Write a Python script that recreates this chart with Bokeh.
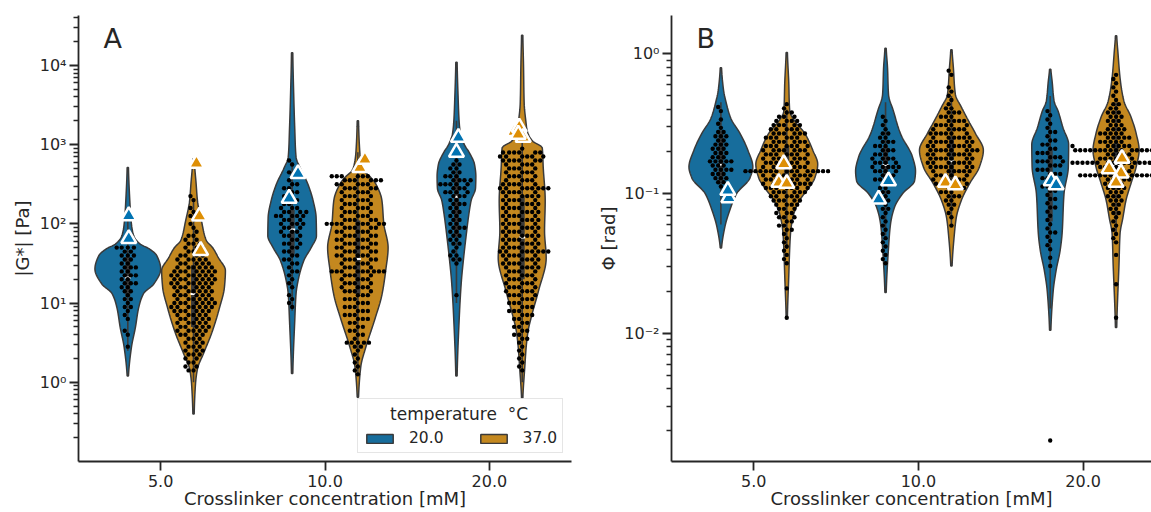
import math
import numpy as np
from bokeh.plotting import figure
from bokeh.models import (FixedTicker, CustomJSTickFormatter, Label, Legend,
                          LegendItem, Range1d)
from bokeh.layouts import row
from bokeh.embed import file_html
from bokeh.resources import INLINE

# ------------------------------------------------------------------ data
categories = ["5.0", "10.0", "20.0"]
temperatures = ["20.0", "37.0"]
legend_title = "temperature \u00a0\u00b0C"
x_label = "Crosslinker concentration [mM]"
G_label = "|G*| [Pa]"
P_label = "\u03a6 [rad]"

# ---- Panel A: |G*| [Pa]
# swarm: number of measurements at each log10 level (first level, step)
G_step = 0.05
G_5_20_first = 0.45
G_5_20_counts = [1, 0, 0, 1, 1, 0, 0, 1, 1, 1, 2, 1, 2, 1, 2, 2, 3, 2, 3, 2, 3, 2, 2, 3, 2, 4]
G_5_37_first = 0.15
G_5_37_counts = [2, 2, 2, 2, 3, 3, 3, 3, 3, 4, 5, 5, 5, 5, 5, 6, 7, 7, 6, 6, 6, 6, 7, 7, 7,
                 7, 6, 5, 5, 4, 3, 3, 3, 2, 2, 1, 1, 1, 1, 1, 1, 1, 0, 1, 1]
G_10_20_first = 0.95
G_10_20_counts = [1, 1, 1, 1, 0, 1, 1, 1, 1, 2, 1, 2, 2, 2, 2, 2, 3, 2, 3, 3, 3, 4, 3, 5, 4,
                  3, 2, 2, 2, 2, 2, 2, 1, 1, 1, 0, 1, 1]
G_10_37_first = 0.10
G_10_37_counts = [1, 1, 1, 1, 1, 1, 1, 2, 5, 1, 2, 2, 2, 2, 3, 3, 3, 3, 3, 3, 3, 4, 4, 4, 4,
                  4, 9, 4, 4, 5, 5, 5, 5, 5, 5, 5, 5, 5, 9, 5, 4, 4, 4, 4, 4, 4, 4, 5, 5, 6, 6]
G_20_20_first = 1.10
G_20_20_counts = [1, 0, 0, 0, 0, 0, 0, 0, 1, 2, 2, 1, 1, 2, 2, 2, 2, 3, 2, 2, 2, 2, 2, 3, 2,
                  3, 4, 3, 5, 4, 3, 2, 2, 2, 1]
G_20_37_first = 0.15
G_20_37_counts = [1, 1, 1, 1, 1, 1, 1, 1, 2, 2, 2, 2, 2, 2, 3, 3, 3, 3, 3, 4, 4, 4, 4, 4, 4,
                  4, 5, 5, 5, 5, 8, 5, 5, 5, 5, 5, 5, 5, 5, 5, 5, 5, 5, 5, 5, 5, 8, 5, 4, 4,
                  4, 4, 4, 6, 6, 6, 1]

# violin outlines: log10 level and relative density (1 = full half width)
G_5_20_vlog = [0.08, 0.44, 0.69, 0.94, 1.12, 1.24, 1.43, 1.60, 1.68, 1.75, 1.85, 2.0, 2.3, 2.71]
G_5_20_vden = [0.02, 0.11, 0.23, 0.33, 0.48, 0.79, 1.0, 0.88, 0.67, 0.36, 0.18, 0.11, 0.06, 0.02]
G_5_37_vlog = [-0.40, -0.02, 0.17, 0.36, 0.63, 0.94, 1.20, 1.41, 1.57, 1.70, 1.79, 2.04, 2.29, 2.5, 2.82]
G_5_37_vden = [0.02, 0.06, 0.12, 0.30, 0.56, 0.79, 0.94, 0.97, 0.76, 0.58, 0.39, 0.24, 0.12, 0.08, 0.02]
G_10_20_vlog = [0.11, 0.78, 1.12, 1.28, 1.54, 1.70, 1.85, 2.08, 2.29, 2.5, 2.71, 2.84, 3.2, 3.6, 4.16]
G_10_20_vden = [0.02, 0.08, 0.12, 0.18, 0.36, 0.58, 0.74, 0.73, 0.64, 0.48, 0.24, 0.12, 0.08, 0.05, 0.02]
G_10_37_vlog = [-0.19, 0.2, 0.44, 0.8, 1.1, 1.42, 1.70, 2.0, 2.3, 2.5, 2.6, 2.67, 2.75, 2.9, 3.3]
G_10_37_vden = [0.02, 0.09, 0.24, 0.52, 0.73, 0.85, 0.92, 0.79, 0.73, 0.55, 0.36, 0.18, 0.11, 0.06, 0.02]
G_20_20_vlog = [0.08, 0.86, 1.28, 1.54, 1.87, 2.13, 2.3, 2.45, 2.6, 2.75, 2.9, 3.0, 3.14, 3.3, 3.6, 4.04]
G_20_20_vden = [0.02, 0.09, 0.15, 0.21, 0.30, 0.38, 0.45, 0.58, 0.59, 0.55, 0.39, 0.24, 0.12, 0.08, 0.05, 0.02]
G_20_37_vlog = [-0.2, 0.2, 0.44, 0.65, 0.86, 1.16, 1.57, 1.91, 2.29, 2.71, 2.96, 3.05, 3.18, 3.3, 3.52, 4.0, 4.38]
G_20_37_vden = [0.02, 0.08, 0.12, 0.18, 0.30, 0.50, 0.73, 0.68, 0.70, 0.64, 0.61, 0.30, 0.15, 0.11, 0.06, 0.04, 0.02]

# inner box: whisker low, q1, median, q3, whisker high  [Pa]
G_5_20_box = [2.5, 12, 21, 38, 140]
G_5_37_box = [1.0, 5, 13, 30, 200]
G_10_20_box = [8, 40, 85, 150, 600]
G_10_37_box = [1.3, 13, 36, 110, 800]
G_20_20_box = [10, 70, 220, 420, 2000]
G_20_37_box = [1.0, 20, 67, 230, 1500]

# triangles (reference values) and their jitter in category units
G_5_20_tri = [126, 65];              G_5_20_jit = [0.006, 0.006]
G_5_37_tri = [580, 125, 46];         G_5_37_jit = [0.018, 0.036, 0.043]
G_10_20_tri = [210, 430];            G_10_20_jit = [-0.018, 0.036]
G_10_37_tri = [510, 650];            G_10_37_jit = [0.012, 0.043]
G_20_20_tri = [1230, 800];           G_20_20_jit = [0.012, 0.0]
G_20_37_tri = [1460, 1650, 1230, 1350]; G_20_37_jit = [-0.049, -0.018, 0.006, -0.024]

# ---- Panel B: Phi [rad]
P_step = 0.03
P_5_20_first = -0.95
P_5_20_counts = [1, 2, 3, 3, 4, 3, 5, 3, 3, 3, 3, 2, 3, 2, 1, 1, 1, 0, 1, 1]
P_5_37_first = -1.89
P_5_37_counts = [1, 0, 0, 0, 0, 0, 0, 1, 0, 0, 0, 0, 0, 1, 1, 1, 1, 1, 1, 1, 1, 2, 2, 2, 3,
                 3, 3, 4, 5, 5, 6, 7, 8, 7, 8, 15, 7, 7, 7, 7, 7, 7, 6, 6, 6, 5, 5, 4, 3, 2,
                 1, 1]
P_10_20_first = -1.50
P_10_20_counts = [1, 1, 1, 1, 1, 1, 1, 1, 1, 1, 1, 1, 1, 2, 1, 2, 2, 2, 2, 3, 3, 3, 4, 5, 4,
                  4, 3, 3, 3, 3, 2, 2, 1, 1, 1, 1]
P_10_37_first = -1.23
P_10_37_counts = [1, 0, 1, 1, 1, 2, 2, 3, 3, 4, 5, 5, 5, 6, 7, 7, 7, 7, 8, 7, 7, 6, 6, 5, 5,
                  4, 3, 3, 2, 1, 1, 1, 1, 1, 0, 0, 1, 1]
P_20_20_first = -1.52
P_20_20_counts = [1, 0, 1, 0, 1, 1, 1, 1, 2, 1, 1, 1, 1, 1, 2, 1, 2, 1, 2, 2, 2, 2, 3, 3, 3,
                  4, 3, 3, 2, 2, 2, 1, 2, 1, 1, 1, 1, 1]
P_20_20_outliers = [0.0017]
P_20_37_first = -1.89
P_20_37_counts = [1, 0, 0, 0, 0, 0, 0, 0, 1, 0, 0, 0, 0, 0, 0, 1, 0, 0, 1, 1, 1, 1, 1, 1, 1,
                  2, 2, 2, 3, 3, 3, 4, 4, 5, 14, 5, 6, 16, 6, 5, 16, 6, 5, 5, 5, 4, 3, 3, 3, 3,
                  2, 2, 1, 1, 1, 1, 1, 1, 1]

P_5_20_vlog = [-1.39, -1.24, -1.12, -1.0, -0.89, -0.81, -0.69, -0.57, -0.46, -0.34, -0.26, -0.1]
P_5_20_vden = [0.02, 0.12, 0.27, 0.48, 0.88, 0.97, 0.82, 0.58, 0.30, 0.15, 0.08, 0.02]
P_5_37_vlog = [-1.88, -1.6, -1.39, -1.27, -1.15, -1.05, -0.95, -0.89, -0.79, -0.69, -0.57, -0.48, -0.41, -0.2, 0.01]
P_5_37_vden = [0.02, 0.06, 0.09, 0.12, 0.21, 0.39, 0.70, 0.85, 0.94, 0.79, 0.55, 0.24, 0.09, 0.06, 0.02]
P_10_20_vlog = [-1.71, -1.39, -1.22, -1.10, -1.0, -0.91, -0.84, -0.74, -0.57, -0.41, -0.29, -0.1, 0.04]
P_10_20_vden = [0.02, 0.09, 0.15, 0.27, 0.52, 0.88, 0.91, 0.82, 0.45, 0.24, 0.09, 0.06, 0.02]
P_10_37_vlog = [-1.52, -1.29, -1.17, -1.05, -0.93, -0.81, -0.69, -0.57, -0.48, -0.38, -0.29, -0.1, 0.03]
P_10_37_vden = [0.02, 0.09, 0.15, 0.30, 0.55, 0.85, 0.97, 0.73, 0.52, 0.30, 0.12, 0.06, 0.02]
P_20_20_vlog = [-1.98, -1.70, -1.55, -1.41, -1.29, -1.0, -0.81, -0.65, -0.53, -0.41, -0.34, -0.2, -0.11]
P_20_20_vden = [0.02, 0.09, 0.18, 0.30, 0.36, 0.42, 0.55, 0.56, 0.39, 0.24, 0.12, 0.06, 0.02]
P_20_37_vlog = [-1.96, -1.5, -1.29, -1.17, -1.05, -0.93, -0.81, -0.69, -0.57, -0.45, -0.34, -0.17, 0.0, 0.13]
P_20_37_vden = [0.02, 0.09, 0.12, 0.21, 0.30, 0.45, 0.61, 0.70, 0.61, 0.45, 0.24, 0.12, 0.06, 0.02]

P_5_20_box = [0.06, 0.123, 0.16, 0.27, 0.45]
P_5_37_box = [0.04, 0.11, 0.16, 0.22, 0.4]
P_10_20_box = [0.05, 0.12, 0.16, 0.22, 0.45]
P_10_37_box = [0.06, 0.13, 0.17, 0.25, 0.5]
P_20_20_box = [0.015, 0.063, 0.12, 0.21, 0.5]
P_20_37_box = [0.05, 0.12, 0.16, 0.23, 0.45]

P_5_20_tri = [0.093, 0.105];               P_5_20_jit = [0.048, 0.042]
P_5_37_tri = [0.163, 0.12, 0.118];         P_5_37_jit = [-0.018, -0.048, 0.0]
P_10_20_tri = [0.123, 0.091];              P_10_20_jit = [0.018, -0.042]
P_10_37_tri = [0.12, 0.115];               P_10_37_jit = [-0.036, 0.024]
P_20_20_tri = [0.123, 0.115];              P_20_20_jit = [0.006, 0.036]
P_20_37_tri = [0.15, 0.178, 0.14, 0.12];   P_20_37_jit = [-0.042, 0.036, 0.030, 0.0]

# ------------------------------------------------------------------ style / layout
FONT = "DejaVu Sans"
INK = "#262626"
EDGE = "#3a3a3a"
FILLS = {"20.0": "#176d9c", "37.0": "#c4881f"}
MARKS = {"20.0": "#0173b2", "37.0": "#de8f05"}
HUE_OFFSET = {"20.0": -0.2, "37.0": 0.2}
HALF_W = 0.2
DOT = 4.4
GAP = 5.0

PAGE_H = 512
TOP, FRAME_H, BOTTOM = 15, 446, 51
A_LEFT, A_FRAME_W, A_RIGHT = 78, 493, 24
B_LEFT, B_FRAME_W, B_RIGHT = 75, 481, 0
B_FULL_W = 495          # width the panel-B frame would have if not cropped

A_LOG = (-1.0, 4.63)
B_LOG = (-2.92, 0.275)


def build(prefix):
    g = globals()
    out = {}
    for c in categories:
        ck = c.split(".")[0]
        for t in temperatures:
            tk = t.split(".")[0]
            k = f"{prefix}_{ck}_{tk}"
            out[(c, t)] = dict(first=g[k + "_first"], counts=g[k + "_counts"],
                               outliers=g.get(k + "_outliers", []),
                               vlog=g[k + "_vlog"], vden=g[k + "_vden"],
                               box=g[k + "_box"], tri=g[k + "_tri"], jit=g[k + "_jit"])
    return out


def pchip(x, y, xn):
    x = np.asarray(x, float); y = np.asarray(y, float)
    h = np.diff(x); d = np.diff(y) / h
    m = np.zeros_like(y)
    for k in range(1, len(y) - 1):
        if d[k - 1] * d[k] > 0:
            w1 = 2 * h[k] + h[k - 1]; w2 = h[k] + 2 * h[k - 1]
            m[k] = (w1 + w2) / (w1 / d[k - 1] + w2 / d[k])
    m[0] = d[0] * 0.5; m[-1] = d[-1] * 0.5
    idx = np.clip(np.searchsorted(x, xn) - 1, 0, len(h) - 1)
    t = (xn - x[idx]) / h[idx]
    h00 = 2 * t**3 - 3 * t**2 + 1; h10 = t**3 - 2 * t**2 + t
    h01 = -2 * t**3 + 3 * t**2; h11 = t**3 - t**2
    return h00 * y[idx] + h10 * h[idx] * m[idx] + h01 * y[idx + 1] + h11 * h[idx] * m[idx + 1]


def swarm(logs, yppd, d=GAP):
    ys = np.sort(np.asarray(logs, float)) * yppd
    px, py = [], []
    for y in ys:
        near = [(a, b) for a, b in zip(px, py) if abs(b - y) < d]
        cands = [0.0]
        for a, b in near:
            dx = math.sqrt(max(d * d - (b - y) ** 2, 0.0))
            cands += [a - dx, a + dx]
        cands.sort(key=lambda c: (round(abs(c), 6), c))
        chosen = cands[-1]
        for c in cands:
            if all((c - a) ** 2 + (y - b) ** 2 >= d * d - 1e-6 for a, b in near):
                chosen = c
                break
        px.append(chosen); py.append(y)
    return np.array(px), ys / yppd


def tick_formatter():
    return CustomJSTickFormatter(code="""
        const sup = {"-": "\u207b", "0": "\u2070", "1": "\u00b9", "2": "\u00b2", "3": "\u00b3",
                     "4": "\u2074", "5": "\u2075", "6": "\u2076", "7": "\u2077", "8": "\u2078", "9": "\u2079"};
        const e = Math.round(Math.log10(tick));
        return "10" + String(e).split("").map(c => sup[c]).join("");
    """)


def panel(groups, step, left, frame_w, right, x_end, ylog, majors, minors, ylabel, letter,
          ylab_standoff):
    xppu = frame_w / (x_end + 0.5)
    yppd = FRAME_H / (ylog[1] - ylog[0])
    p = figure(width=left + frame_w + right, height=PAGE_H,
               x_range=Range1d(-0.5, x_end), y_range=Range1d(10 ** ylog[0], 10 ** ylog[1]),
               y_axis_type="log", output_backend="svg", toolbar_location=None,
               min_border_left=left, min_border_right=right,
               min_border_top=TOP, min_border_bottom=BOTTOM)
    p.outline_line_color = None
    p.grid.visible = False
    p.background_fill_color = "white"
    p.border_fill_color = "white"

    for ax in (p.xaxis[0], p.yaxis[0]):
        ax.axis_line_color = INK; ax.axis_line_width = 1.8
        ax.major_tick_line_color = INK; ax.major_tick_line_width = 1.8
        ax.major_tick_out = 9; ax.major_tick_in = 0
        ax.minor_tick_line_color = INK; ax.minor_tick_line_width = 1.3
        ax.minor_tick_out = 5; ax.minor_tick_in = 0
        ax.major_label_text_font = FONT
        ax.major_label_text_font_size = "16px"
        ax.major_label_text_color = INK
        ax.axis_label_text_font = FONT
        ax.axis_label_text_font_style = "normal"
        ax.axis_label_text_color = INK
    # x axis (categorical positions)
    xa = p.xaxis[0]
    xa.ticker = FixedTicker(ticks=list(range(len(categories))))
    xa.major_label_overrides = {i: c for i, c in enumerate(categories)}
    xa.minor_tick_line_color = None
    xa.major_label_standoff = 4
    xa.axis_label = x_label
    xa.axis_label_text_font_size = "18px"
    xa.axis_label_standoff = -2
    # y axis (log)
    ya = p.yaxis[0]
    ya.ticker = FixedTicker(ticks=majors, minor_ticks=minors)
    ya.formatter = tick_formatter()
    ya.major_label_standoff = 3
    ya.axis_label = ylabel
    ya.axis_label_text_font_size = "18px"
    ya.axis_label_standoff = ylab_standoff

    legend_rs = {}
    # violins + inner boxes
    for ci, c in enumerate(categories):
        for t in temperatures:
            g = groups[(c, t)]
            cx = ci + HUE_OFFSET[t]
            L = np.linspace(g["vlog"][0], g["vlog"][-1], 240)
            D = np.clip(pchip(g["vlog"], g["vden"], L), 0.015, None) * HALF_W
            xs = np.concatenate([cx + D, (cx - D)[::-1]])
            ys = np.concatenate([10 ** L, (10 ** L)[::-1]])
            r = p.patch(xs, ys, fill_color=FILLS[t], line_color=EDGE, line_width=1.5)
            legend_rs.setdefault(t, r)
            wlo, q1, med, q3, whi = g["box"]
            p.segment(x0=[cx], y0=[wlo], x1=[cx], y1=[whi], line_color=EDGE, line_width=1.6)
            p.segment(x0=[cx], y0=[q1], x1=[cx], y1=[q3], line_color=EDGE, line_width=5)
            p.scatter([cx], [med], marker="dash", size=6, line_color="white", line_width=2)
    # swarms
    for ci, c in enumerate(categories):
        for t in temperatures:
            g = groups[(c, t)]
            cx = ci + HUE_OFFSET[t]
            logs = [g["first"] + i * step for i, n in enumerate(g["counts"]) for _ in range(n)]
            logs += [math.log10(v) for v in g["outliers"]]
            offs, ls = swarm(logs, yppd)
            p.scatter(cx + offs / xppu, 10 ** ls, size=DOT, fill_color="black",
                      line_color=None)
    # triangles
    for ci, c in enumerate(categories):
        for t in temperatures:
            g = groups[(c, t)]
            cx = ci + HUE_OFFSET[t]
            p.scatter([cx + j for j in g["jit"]], g["tri"], marker="triangle", size=15,
                      fill_color=MARKS[t], line_color="white", line_width=2.5)

    # panel letter
    p.add_layout(Label(x=-0.5 + 25 / xppu, y=10 ** (ylog[1] - (38 - TOP) / yppd), text=letter,
                       text_font=FONT, text_font_size="27px", text_color=INK,
                       text_align="left", text_baseline="alphabetic"))
    return p, legend_rs


G_groups = build("G")
P_groups = build("P")

G_majors = [1, 10, 100, 1000, 10000]
G_minors = [m * 10 ** e for e in range(-1, 5) for m in range(2, 10) if m * 10 ** e < 10 ** 4.63]
P_majors = [0.01, 0.1, 1]
P_minors = [m * 10 ** e for e in range(-3, 1) for m in range(2, 10)
            if 10 ** -2.92 < m * 10 ** e < 10 ** 0.275]

pA, legA = panel(G_groups, G_step, A_LEFT, A_FRAME_W, A_RIGHT, 2.5, A_LOG,
                 G_majors, G_minors, G_label, "A", 4)
b_end = -0.5 + B_FRAME_W / (B_FULL_W / 3.0)
pB, _ = panel(P_groups, P_step, B_LEFT, B_FRAME_W, B_RIGHT, b_end, B_LOG,
              P_majors, P_minors, P_label, "B", 2)

legend = Legend(items=[LegendItem(label=t, renderers=[legA[t]]) for t in temperatures],
                title="\u00a0" * 5 + legend_title, orientation="horizontal",
                location=(279, 8))
legend.title_text_font = FONT
legend.title_text_font_size = "17px"
legend.title_text_font_style = "normal"
legend.title_text_color = INK
legend.title_standoff = 5
legend.label_text_font = FONT
legend.label_text_font_size = "15.5px"
legend.label_text_color = INK
legend.glyph_width = 33
legend.glyph_height = 11
legend.label_height = 11
legend.label_standoff = 13
legend.spacing = 33
legend.padding = 5
legend.margin = 0
legend.border_line_color = "#cccccc"
legend.border_line_width = 1
legend.background_fill_alpha = 0.8
pA.add_layout(legend)

layout = row(pA, pB)
open("out.html", "w").write(file_html(layout, INLINE))
